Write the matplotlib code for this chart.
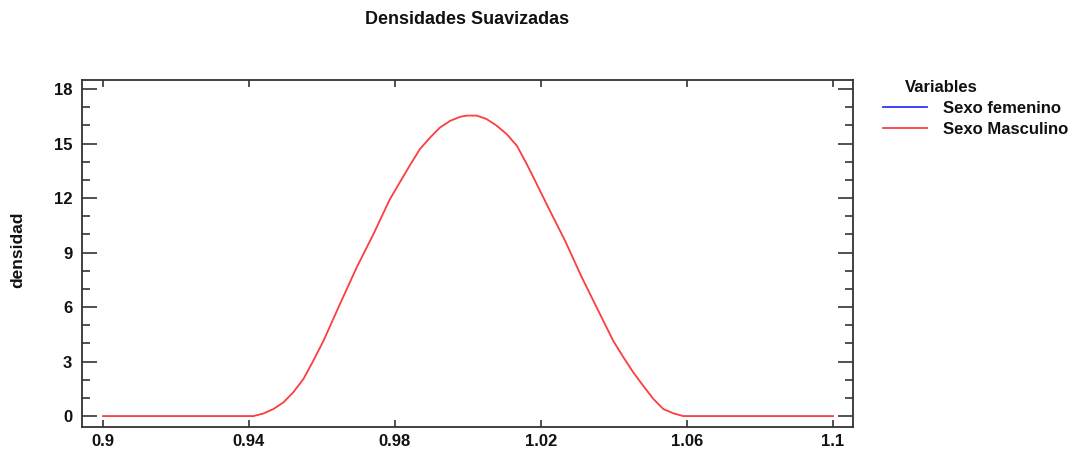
import matplotlib
matplotlib.use("Agg")
import matplotlib.pyplot as plt
from matplotlib.ticker import MultipleLocator

# ---- data ----
x_vals = [0.900, 0.9412, 0.9439, 0.9467, 0.9494, 0.9521, 0.9549, 0.9576, 0.9604,
          0.9649, 0.9695, 0.9741, 0.9786, 0.9841, 0.9868, 0.9896, 0.9923, 0.9951,
          0.9978, 0.9996, 1.0024, 1.0051, 1.0079, 1.0106, 1.0134, 1.0161, 1.0184,
          1.0220, 1.0266, 1.0312, 1.0357, 1.0398, 1.0426, 1.0453, 1.0480, 1.0508,
          1.0535, 1.0563, 1.0590, 1.100]
masculino_y = [0.0, 0.0, 0.14, 0.39, 0.75, 1.30, 2.04, 3.04, 4.14,
               6.16, 8.18, 10.02, 11.94, 13.81, 14.69, 15.33, 15.88, 16.25,
               16.47, 16.54, 16.54, 16.35, 15.98, 15.52, 14.88, 13.87, 12.95,
               11.48, 9.65, 7.63, 5.80, 4.14, 3.23, 2.40, 1.67, 0.94,
               0.39, 0.15, 0.0, 0.0]
femenino_y = list(masculino_y)  # hidden under the red curve in the reference

series_names = ["Sexo femenino", "Sexo Masculino"]
series_colors = ["#3333ff", "#ff4040"]
x_ticks = [0.9, 0.94, 0.98, 1.02, 1.06, 1.1]
x_tick_labels = ["0.9", "0.94", "0.98", "1.02", "1.06", "1.1"]
y_ticks = [0, 3, 6, 9, 12, 15, 18]

title = "Densidades Suavizadas"
y_label = "densidad"
legend_title = "Variables"

FONT = "Liberation Sans"
W, H = 1083, 457
fig = plt.figure(figsize=(W / 100, H / 100), dpi=100)
ax = fig.add_axes([82 / W, 1 - 427 / H, (853 - 82) / W, (427 - 80) / H])

ax.plot(x_vals, femenino_y, color=series_colors[0], lw=0.5, label=series_names[0])
ax.plot(x_vals, masculino_y, color=series_colors[1], lw=1.3, label=series_names[1])

ax.set_xlim(0.89425, 1.10548)
ax.set_ylim(-0.6, 18.5)
ax.set_xticks(x_ticks)
ax.set_xticklabels(x_tick_labels)
ax.set_yticks(y_ticks)
ax.yaxis.set_minor_locator(MultipleLocator(1))

edge = "#333333"
for s in ax.spines.values():
    s.set_color(edge)
    s.set_linewidth(1.3)

ax.tick_params(axis="y", which="major", direction="in", length=10.5, width=1.2,
               color=edge, left=True, right=True, pad=7)
ax.tick_params(axis="y", which="minor", direction="in", length=5.5, width=1.2,
               color=edge, left=True, right=True)
ax.tick_params(axis="x", which="major", direction="in", length=5, width=1.2,
               color=edge, top=True, bottom=True, pad=5)
for lab in ax.get_xticklabels() + ax.get_yticklabels():
    lab.set_fontfamily(FONT)
    lab.set_fontweight("bold")
    lab.set_fontsize(12)
    lab.set_color("#111111")

fig.text(467 / W, 1 - 20 / H, title, ha="center", va="center",
         fontfamily=FONT, fontweight="bold", fontsize=13, color="#111111")
fig.text(18 / W, 1 - 250 / H, y_label, ha="center", va="center", rotation=90,
         fontfamily=FONT, fontweight="bold", fontsize=12.5, color="#111111")

fig.text(905 / W, 1 - 88 / H, legend_title, ha="left", va="center",
         fontfamily=FONT, fontweight="bold", fontsize=12, color="#111111")
leg = fig.legend(loc="upper left", bbox_to_anchor=(883 / W, 1 - 101 / H),
                 frameon=False, handlelength=2.64, handletextpad=0.96,
                 labelspacing=0.37, borderaxespad=0, borderpad=0,
                 prop={"family": FONT, "weight": "bold", "size": 12})
for t in leg.get_texts():
    t.set_color("#111111")
for h in leg.get_lines():
    h.set_linewidth(1.3)

fig.savefig("out.png", dpi=100)
